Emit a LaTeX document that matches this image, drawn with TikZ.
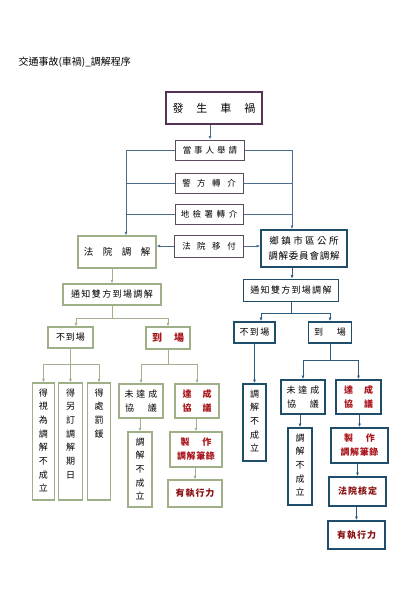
\documentclass[tikz,border=0pt]{standalone}
\usepackage{fontspec}
\newfontfamily\cjk{Noto Sans CJK TC}
\usetikzlibrary{arrows.meta,calc}
\definecolor{cPur}{HTML}{553355}
\definecolor{cMid}{HTML}{5E4A5E}
\definecolor{cBL}{HTML}{4A6C8C}
\definecolor{cGB}{HTML}{9FAF88}
\definecolor{cGL}{HTML}{A2B08E}
\definecolor{cBB}{HTML}{1F4E6B}
\definecolor{cBN}{HTML}{2E5C7E}
\definecolor{cRed}{HTML}{A8141A}
\definecolor{cDRed}{HTML}{8A1010}
\def\spaced#1#2{\def\sgapv{#1}\spacedi#2\relax}
\def\spacedi#1{\ifx#1\relax\else #1\expandafter\spacedii\fi}
\def\spacedii#1{\ifx#1\relax\else\hspace{\sgapv}#1\expandafter\spacedii\fi}
\newcommand\vtxt[2]{\parbox[c][#1pt][t]{12pt}{\centering\vspace*{5.5pt}#2}}
\tikzset{
  base/.style={inner sep=0pt, align=center, text=black, font=\cjk\fontsize{9}{14}\selectfont},
  topbox/.style={base, draw=cPur, line width=1.6pt, font=\cjk\fontsize{11}{14}\selectfont},
  mbox/.style={base, draw=cMid, line width=1pt, font=\cjk\fontsize{8.5}{14}\selectfont},
  gbx/.style={base, draw=cGB, line width=1.3pt},
  bbx/.style={base, draw=cBB, line width=1.8pt},
  vt/.style={font=\cjk\fontsize{9}{13.7}\selectfont},
  redt/.style={text=cRed, font=\cjk\bfseries\fontsize{9}{14}\selectfont},
  dredt/.style={text=cDRed, font=\cjk\bfseries\fontsize{9}{14}\selectfont},
  tln/.style={draw=cBL, line width=0.8pt},
  tarr/.style={tln, -{Latex[length=3.5pt,width=3pt]}},
  gln/.style={draw=cGL, line width=0.8pt},
  garr/.style={gln, -{Latex[length=3.5pt,width=3pt]}},
  bln/.style={draw=cBN, line width=0.8pt},
  barr/.style={bln, -{Latex[length=3.5pt,width=3pt]}},
}
\begin{document}
\begin{tikzpicture}[x=1pt,y=-1pt]
\useasboundingbox[fill=white] (0,0) rectangle (416,600);
\node[anchor=west, font=\cjk\fontsize{10}{12}\selectfont] (title) at (15,62) {交通事故(車禍)\_調解程序};
% top part
\node[topbox, minimum width=96, minimum height=32] (top) at (214,108) {\spaced{13pt}{發生車禍}};
\node[mbox, minimum width=69, minimum height=20] (a1) at (210,150) {\spaced{3pt}{當事人舉請}};
\node[mbox, minimum width=68, minimum height=20] (a2) at (209,183) {\spaced{6.5pt}{警方轉介}};
\node[mbox, minimum width=68, minimum height=20] (a3) at (209,214) {\spaced{3.5pt}{地檢署轉介}};
\node[mbox, minimum width=69, minimum height=22] (a4) at (209,246) {\spaced{6.5pt}{法院移付}};
\node[gbx, minimum width=78, minimum height=32, font=\cjk\fontsize{9.5}{14}\selectfont] (fy) at (117,252) {\spaced{9.5pt}{法院調解}};
\node[bbx, minimum width=86, minimum height=37, font=\cjk\fontsize{9.5}{15}\selectfont] (ts) at (304,248.5) {\spaced{2.5pt}{鄉鎮市區公所}\\\spaced{0.8pt}{調解委員會調解}};
% left column
\node[gbx, minimum width=98, minimum height=21] (ln) at (112,294.5) {\spaced{1.4pt}{通知雙方到場調解}};
\node[gbx, minimum width=45, minimum height=21] (lnb) at (70.5,337.5) {\spaced{1pt}{不到場}};
\node[gbx, redt, minimum width=44, minimum height=22, font=\cjk\bfseries\fontsize{10}{14}\selectfont] (lyb) at (168,338) {\spaced{12pt}{到場}};
\node[gbx, vt, minimum width=22, minimum height=117] (l1) at (43.5,441.5) {\vtxt{117}{得\\視\\為\\調\\解\\不\\成\\立}};
\node[gbx, vt, minimum width=24, minimum height=117] (l2) at (70.5,441.5) {\vtxt{117}{得\\另\\訂\\調\\解\\期\\日}};
\node[gbx, vt, minimum width=23, minimum height=117] (l3) at (99,441.5) {\vtxt{117}{得\\處\\罰\\鍰}};
\node[gbx, minimum width=44, minimum height=34] (l4) at (141,401) {\spaced{3pt}{未達成}\\\spaced{14pt}{協議}};
\node[gbx, redt, minimum width=44, minimum height=34] (l5) at (197,401) {\spaced{11pt}{達成}\\\spaced{11pt}{協議}};
\node[gbx, vt, minimum width=24, minimum height=75] (l6) at (140,469.5) {\vtxt{75}{調\\解\\不\\成\\立}};
\node[gbx, redt, minimum width=52, minimum height=35] (l7) at (196,449.5) {\spaced{13pt}{製作}\\\spaced{0.6pt}{調解筆錄}};
\node[gbx, dredt, minimum width=54, minimum height=27] (l8) at (195,493.5) {\spaced{1pt}{有執行力}};
% right column
\node[bbx, minimum width=95, minimum height=22] (rn) at (291,290.5) {\spaced{1.3pt}{通知雙方到場調解}};
\node[bbx, minimum width=41, minimum height=21] (rnb) at (254.5,332.5) {\spaced{1.5pt}{不到場}};
\node[bbx, minimum width=43, minimum height=21] (ryb) at (330,332.5) {\spaced{14pt}{到場}};
\node[bbx, vt, minimum width=23, minimum height=77] (r1) at (254.5,422.5) {\vtxt{77}{調\\解\\不\\成\\立}};
\node[bbx, minimum width=44, minimum height=34] (r2) at (303,397) {\spaced{3pt}{未達成}\\\spaced{14pt}{協議}};
\node[bbx, redt, minimum width=45, minimum height=34] (r3) at (358.5,397) {\spaced{11pt}{達成}\\\spaced{11pt}{協議}};
\node[bbx, vt, minimum width=24, minimum height=77] (r4) at (300,466.5) {\vtxt{77}{調\\解\\不\\成\\立}};
\node[bbx, redt, minimum width=57, minimum height=35] (r5) at (359.5,445.5) {\spaced{13pt}{製作}\\\spaced{0.6pt}{調解筆錄}};
\node[bbx, dredt, minimum width=57, minimum height=29] (r6) at (357.5,491.5) {\spaced{1pt}{法院核定}};
\node[bbx, dredt, minimum width=57, minimum height=28] (r7) at (356.5,535) {\spaced{1pt}{有執行力}};
% top connectors
\coordinate (Ls) at ([xshift=9pt]fy.north);
\coordinate (Rs) at ([xshift=-12pt]ts.north);
\draw[tarr] (top.south -| a1.north) -- (a1.north);
\draw[tarr] (a1.west) -| (Ls);
\draw[tln] (a2.west) -- (a2.west -| Ls);
\draw[tln] (a3.west) -- (a3.west -| Ls);
\draw[tarr] (a1.east) -| (Rs);
\draw[tln] (a2.east) -- (a2.east -| Rs);
\draw[tln] (a3.east) -- (a3.east -| Rs);
\draw[tarr] (a4.west) -- (a4.west -| fy.east);
\draw[tarr] (a4.east) -- (a4.east -| ts.west);
% left connectors
\draw[garr] (fy.south -| ln.north) -- (ln.north);
\draw[gln] (ln.south) -- ++(0,13) coordinate (lb1);
\draw[garr] (lb1) -| ([xshift=5.5pt]lnb.north);
\draw[garr] (lb1) -| (lyb.north);
\draw[gln] (lnb.south) -- ++(0,16) coordinate (lb2);
\draw[garr] (lb2) -| (l1.north);
\draw[garr] (lb2) -| (l2.north);
\draw[garr] (lb2) -| (l3.north);
\draw[gln] (lyb.south) -- ++(0,15) coordinate (lb3);
\draw[garr] (lb3) -| (l4.north);
\draw[garr] (lb3) -| (l5.north);
\draw[garr] (l4.south -| l6.north) -- (l6.north);
\draw[garr] (l5.south -| l7.north) -- (l7.north);
\draw[garr] (l7.south -| l8.north) -- (l8.north);
% right connectors
\draw[barr] (ts.south -| Rs) -- (rn.north -| Rs);
\draw[bln] (rn.south) -- ++(0,11) coordinate (rb1);
\draw[barr] (rb1) -| ([xshift=6.5pt]rnb.north);
\draw[barr] (rb1) -| (ryb.north);
\draw[barr] (rnb.south -| r1.north) -- (r1.north);
\draw[bln] (ryb.south) -- ++(0,16) coordinate (rb2);
\draw[barr] (rb2) -| (r2.north);
\draw[barr] (rb2) -| (r3.north);
\draw[barr] (r2.south -| r4.north) -- (r4.north);
\draw[barr] (r3.south -| r5.north) -- (r5.north);
\draw[barr] (r5.south -| r6.north) -- (r6.north);
\draw[barr] (r6.south -| r7.north) -- (r7.north);
\end{tikzpicture}
\end{document}
